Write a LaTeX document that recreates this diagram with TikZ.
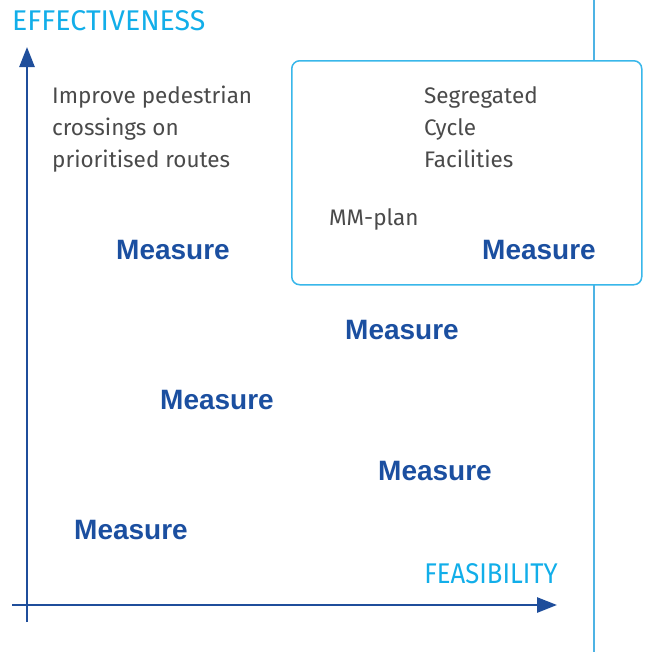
\documentclass[tikz,border=0pt]{standalone}
\usepackage{fontspec}
\setmainfont{Fira Sans}
\newfontfamily\axisfont{Fira Sans}
\newfontfamily\axisfontn[FakeStretch=0.9]{Fira Sans}
\newfontfamily\measfont{Liberation Sans}
\usetikzlibrary{arrows.meta}
\definecolor{axisblue}{HTML}{1F4E9B}
\definecolor{measblue}{HTML}{1B4FA0}
\definecolor{cyantext}{HTML}{12AEE9}
\definecolor{boxcyan}{HTML}{39B7EA}
\definecolor{linecyan}{HTML}{4DB3E4}
\definecolor{graytext}{HTML}{4A4A4A}
\begin{document}
\begin{tikzpicture}[x=1pt,y=-1pt,
  axislabel/.style={text=cyantext,inner sep=0pt},
  desc/.style={text=graytext,font=\fontsize{22.5}{32}\selectfont,inner sep=0pt,align=left,anchor=base west},
  measure/.style={text=measblue,font=\measfont\bfseries\fontsize{28}{28}\selectfont,inner sep=0pt},
  axisline/.style={draw=axisblue,line width=2.7pt,-{Triangle[length=20pt,width=15pt]}}]
\useasboundingbox (0,0) rectangle (648,654);
% right vertical line
\coordinate (rtop) at (594,0);
\coordinate (rbot) at (594,652);
\draw[linecyan,line width=1.5pt] (rtop) -- (rbot);
% box
\node[draw=boxcyan,line width=1.5pt,fill=white,rounded corners=8pt,minimum width=350pt,minimum height=224pt,anchor=north west,inner sep=0pt] (box) at (291,60) {};
% axes
\coordinate (vbot) at (27,622);
\coordinate (vtop) at (27,47);
\coordinate (hleft) at (12,605);
\coordinate (hright) at (557,605);
\draw[axisline] (vbot) -- (vtop);
\draw[axisline] (hleft) -- (hright);
% axis labels
\node[axislabel,font=\axisfont\fontsize{28.5}{28.5}\selectfont,anchor=base west] (eff) at (12,30) {EFFECTIVENESS};
\node[axislabel,font=\axisfontn\fontsize{28.5}{28.5}\selectfont,anchor=base east] (fea) at (558,583) {FEASIBILITY};
% descriptions
\node[desc] (ped) at (52,167) {Improve pedestrian\\crossings on\\prioritised routes};
\node[desc] (seg) at (424,167) {Segregated\\Cycle\\Facilities};
\node[desc] (mm) at (329,225) {MM-plan};
% measures
\node[measure] (m1) at (173,250) {Measure};
\node[measure] (m2) at (539,250) {Measure};
\node[measure] (m3) at (402,330) {Measure};
\node[measure] (m4) at (217,400) {Measure};
\node[measure] (m5) at (435,471) {Measure};
\node[measure] (m6) at (131,530) {Measure};
\end{tikzpicture}
\end{document}
